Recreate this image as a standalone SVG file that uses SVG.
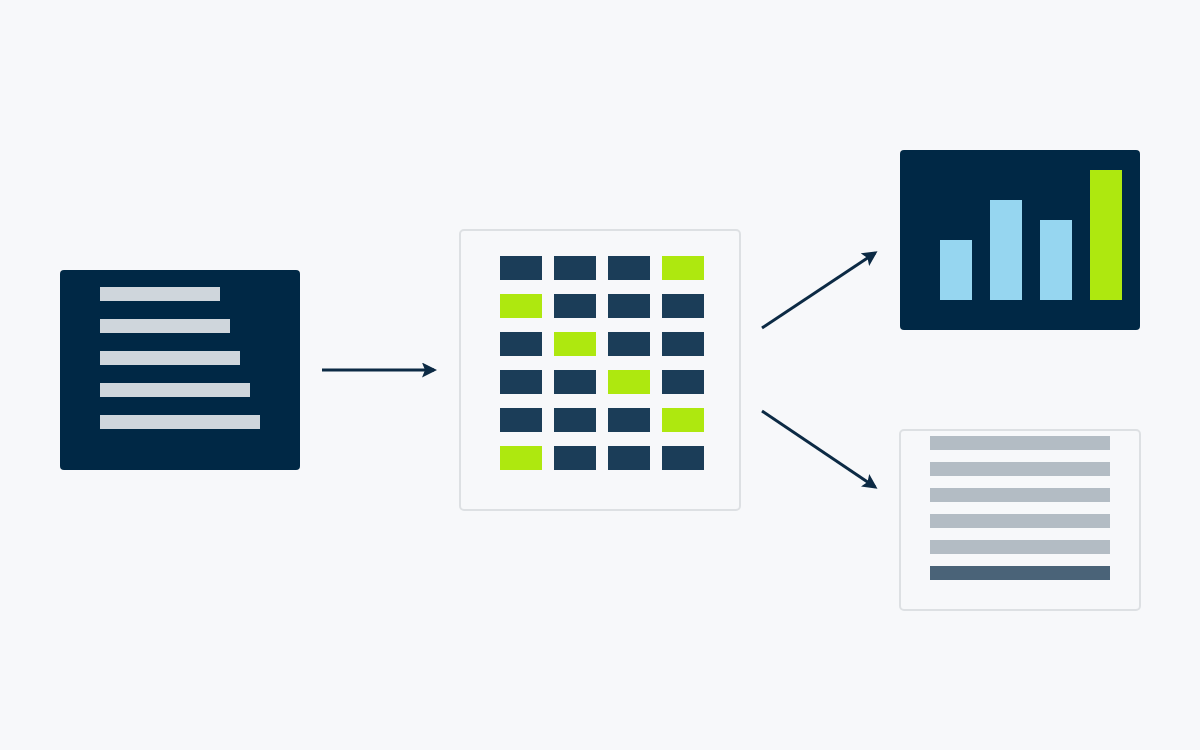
<svg xmlns="http://www.w3.org/2000/svg" width="1200" height="750" viewBox="0 0 1200 750">
<defs>
<style>
.dark{fill:#002845}
.line{fill:#cfd6dc}
.cell{fill:#1b3d58}
.g{fill:#aee80f}
.light{fill:#f7f8fa;stroke:#dde0e3;stroke-width:2}
.blue{fill:#96d6f0}
.tb{fill:#b3bcc4}
.conn{stroke:#0c2a44;stroke-width:3;fill:none;marker-end:url(#ah)}
</style>
<marker id="ah" viewBox="0 0 10 10" refX="8" refY="5" markerWidth="5" markerHeight="5" orient="auto" markerUnits="strokeWidth">
<path d="M0,0 L10,5 L0,10 L2,5 Z" fill="#0c2a44"/>
</marker>
</defs>
<rect width="1200" height="750" fill="#f7f8fa"/>
<g id="source">
<rect class="dark" x="60" y="270" width="240" height="200" rx="4"/>
<rect class="line" x="100" y="287" width="120" height="14"/>
<rect class="line" x="100" y="319" width="130" height="14"/>
<rect class="line" x="100" y="351" width="140" height="14"/>
<rect class="line" x="100" y="383" width="150" height="14"/>
<rect class="line" x="100" y="415" width="160" height="14"/>
</g>
<g id="grid">
<rect class="light" x="460" y="230" width="280" height="280" rx="4"/>
<rect class="cell" x="500" y="256" width="42" height="24"/><rect class="cell" x="554" y="256" width="42" height="24"/><rect class="cell" x="608" y="256" width="42" height="24"/><rect class="g" x="662" y="256" width="42" height="24"/>
<rect class="g" x="500" y="294" width="42" height="24"/><rect class="cell" x="554" y="294" width="42" height="24"/><rect class="cell" x="608" y="294" width="42" height="24"/><rect class="cell" x="662" y="294" width="42" height="24"/>
<rect class="cell" x="500" y="332" width="42" height="24"/><rect class="g" x="554" y="332" width="42" height="24"/><rect class="cell" x="608" y="332" width="42" height="24"/><rect class="cell" x="662" y="332" width="42" height="24"/>
<rect class="cell" x="500" y="370" width="42" height="24"/><rect class="cell" x="554" y="370" width="42" height="24"/><rect class="g" x="608" y="370" width="42" height="24"/><rect class="cell" x="662" y="370" width="42" height="24"/>
<rect class="cell" x="500" y="408" width="42" height="24"/><rect class="cell" x="554" y="408" width="42" height="24"/><rect class="cell" x="608" y="408" width="42" height="24"/><rect class="g" x="662" y="408" width="42" height="24"/>
<rect class="g" x="500" y="446" width="42" height="24"/><rect class="cell" x="554" y="446" width="42" height="24"/><rect class="cell" x="608" y="446" width="42" height="24"/><rect class="cell" x="662" y="446" width="42" height="24"/>
</g>
<g id="chart">
<rect class="dark" x="900" y="150" width="240" height="180" rx="4"/>
<rect class="blue" x="940" y="240" width="32" height="60"/>
<rect class="blue" x="990" y="200" width="32" height="100"/>
<rect class="blue" x="1040" y="220" width="32" height="80"/>
<rect class="g" x="1090" y="170" width="32" height="130"/>
</g>
<g id="table">
<rect class="light" x="900" y="430" width="240" height="180" rx="4"/>
<rect class="tb" x="930" y="436" width="180" height="14"/>
<rect class="tb" x="930" y="462" width="180" height="14"/>
<rect class="tb" x="930" y="488" width="180" height="14"/>
<rect class="tb" x="930" y="514" width="180" height="14"/>
<rect class="tb" x="930" y="540" width="180" height="14"/>
<rect fill="#4a6378" x="930" y="566" width="180" height="14"/>
</g>
<g id="connectors">
<line class="conn" x1="322" y1="370" x2="434" y2="370"/>
<line class="conn" x1="762" y1="328" x2="875" y2="253"/>
<line class="conn" x1="762" y1="411" x2="875" y2="487"/>
</g>
</svg>
